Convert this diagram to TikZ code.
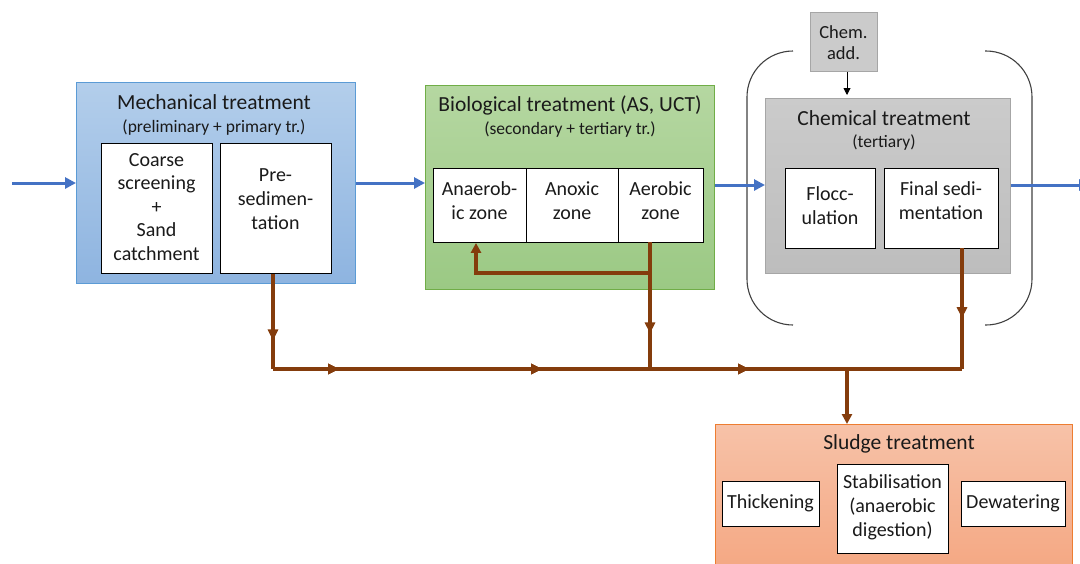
\documentclass[tikz,border=0pt]{standalone}
\usepackage{fontspec}
\setmainfont{Carlito}
\usetikzlibrary{arrows.meta,decorations.markings}
\definecolor{flow}{HTML}{4472C4}
\definecolor{sl}{HTML}{843C0C}
\definecolor{txt}{HTML}{1A1A1A}
\definecolor{mechT}{HTML}{B3CEEB}
\definecolor{mechB}{HTML}{8EB4E0}
\definecolor{mechD}{HTML}{5B9BD5}
\definecolor{bioT}{HTML}{B5D7A1}
\definecolor{bioB}{HTML}{9BC984}
\definecolor{bioD}{HTML}{70AD47}
\definecolor{chT}{HTML}{CBCBCB}
\definecolor{chB}{HTML}{BDBDBD}
\definecolor{chD}{HTML}{A6A6A6}
\definecolor{slT}{HTML}{F7C2A8}
\definecolor{slB}{HTML}{F4A57F}
\definecolor{slD}{HTML}{ED7D31}
\definecolor{brk}{HTML}{404040}
\tikzset{
  grp/.style={anchor=north west, inner sep=0pt, line width=0.8pt},
  inbox/.style={draw=black, fill=white, anchor=north west, inner sep=0pt, line width=0.9pt},
  ttl/.style={text=txt, font=\fontsize{21.5}{25}\selectfont, inner sep=0pt},
  subt/.style={text=txt, font=\fontsize{17.5}{21}\selectfont, inner sep=0pt},
  btxt/.style={text=txt, font=\fontsize{20}{24}\selectfont, align=center, inner sep=0pt},
  flowarr/.style={draw=flow, line width=3pt, -{Triangle[length=11pt,width=11pt]}},
  slline/.style={draw=sl, line width=3.2pt},
  sltip/.style={-{Triangle[length=10pt,width=10pt]}},
  midarr/.style={postaction={decorate}, decoration={markings, mark=at position #1 with {\arrow{Triangle[length=11pt,width=10pt]}}}},
  brack/.style={draw=brk, line width=1.1pt, rounded corners=46pt}
}
\begin{document}
\begin{tikzpicture}[x=1pt,y=-1pt]
\useasboundingbox (0,0) rectangle (1080,563);
\clip (0,0) rectangle (1080,563);

% Mechanical treatment
\node[grp, draw=mechD, top color=mechT, bottom color=mechB, minimum width=279pt, minimum height=201pt] (mech) at (76,82) {};
\node[ttl] (mechttl) at (214,102) {Mechanical treatment};
\node[subt] (mechsub) at (214,128) {(preliminary + primary tr.)};
\node[inbox, minimum width=111pt, minimum height=130pt] (coarse) at (101,143) {};
\node[btxt, font=\fontsize{20}{23.5}\selectfont] (coarsetxt) at (156.5,207) {Coarse\\screening\\+\\Sand\\catchment};
\node[inbox, minimum width=111pt, minimum height=130pt] (pre) at (220,143) {};
\node[btxt] (pretxt) at (275.5,199) {Pre-\\sedimen-\\tation};

% Biological treatment
\node[grp, draw=bioD, top color=bioT, bottom color=bioB, minimum width=289pt, minimum height=204pt] (bio) at (425,85) {};
\node[ttl] (biottl) at (570,105) {Biological treatment (AS, UCT)};
\node[subt] (biosub) at (570,130) {(secondary + tertiary tr.)};
\node[inbox, minimum width=93pt, minimum height=74pt] (z1) at (433,168) {};
\node[inbox, minimum width=92pt, minimum height=74pt] (z2) at (526,168) {};
\node[inbox, minimum width=85pt, minimum height=74pt] (z3) at (618,168) {};
\node[btxt] (z1txt) at (479.5,200.5) {Anaerob-\\ic zone};
\node[btxt] (z2txt) at (572,200.5) {Anoxic\\zone};
\node[btxt] (z3txt) at (660.5,200.5) {Aerobic\\zone};

% Chemical treatment
\draw[brack] (793,51) -- (747,51) -- (747,325) -- (793,325);
\draw[brack] (985,51) -- (1032,51) -- (1032,325) -- (985,325);
\node[grp, draw=chD, top color=chT, bottom color=chB, minimum width=245pt, minimum height=175pt] (chem) at (765,98) {};
\node[ttl] (chemttl) at (884,118) {Chemical treatment};
\node[subt] (chemsub) at (884,143) {(tertiary)};
\node[inbox, minimum width=90pt, minimum height=80pt] (floc) at (785,168) {};
\node[btxt] (floctxt) at (830,205.5) {Flocc-\\ulation};
\node[inbox, minimum width=114pt, minimum height=80pt] (fin) at (884,168) {};
\node[btxt] (fintxt) at (941,200.5) {Final sedi-\\mentation};
\node[grp, draw=chD, fill=chT, minimum width=67pt, minimum height=59pt] (add) at (810,12) {};
\node[btxt, font=\fontsize{18.5}{21.5}\selectfont] (addtxt) at (843.5,42.5) {Chem.\\add.};
\draw[black, line width=0.9pt, -{Triangle[length=7pt,width=7pt]}] (add.south -| 847,0) -- (847,95);

% Sludge treatment
\node[grp, draw=slD, top color=slT, bottom color=slB, minimum width=357pt, minimum height=160pt] (sludge) at (715,424) {};
\node[ttl] (slttl) at (899,444) {Sludge treatment};
\node[inbox, minimum width=97pt, minimum height=45pt] (thick) at (722,481) {};
\node[btxt] (thicktxt) at (770.5,503.5) {Thickening};
\node[inbox, minimum width=111pt, minimum height=89pt] (stab) at (837,464) {};
\node[btxt] (stabtxt) at (892.5,507.5) {Stabilisation\\(anaerobic\\digestion)};
\node[inbox, minimum width=104pt, minimum height=45pt] (dew) at (961,481) {};
\node[btxt] (dewtxt) at (1013,503.5) {Dewatering};

% Main flow arrows
\coordinate (in) at (12,183);
\draw[flowarr] (in) -- (mech.west |- in);
\draw[flowarr] (mech.east |- 0,183) -- (bio.west |- 0,183);
\draw[flowarr] (bio.east |- 0,185) -- (chem.west |- 0,185);
\coordinate (out) at (1090,185);
\draw[flowarr] (chem.east |- out) -- (out);

% Sludge lines
\coordinate (j1) at (273,369);
\coordinate (j4) at (962,369);
\coordinate (ja) at (650,369);
\coordinate (jd) at (847,369);
\coordinate (aer) at (650,242);
\coordinate (ret) at (650,273);
\coordinate (fs) at (962,248);
\draw[slline, midarr=0.70] (pre.south -| j1) -- (j1);
\draw[slline, midarr=66pt, midarr=269pt, midarr=476pt] (j1) -- (j4);
\draw[slline, midarr=0.72] (aer) -- (ja);
\draw[slline, sltip] (ret) -| (z1.south -| 476,0);
\draw[slline, midarr=0.58] (fs) -- (j4);
\draw[slline, sltip] (jd) -- (sludge.north -| jd);
\end{tikzpicture}
\end{document}
